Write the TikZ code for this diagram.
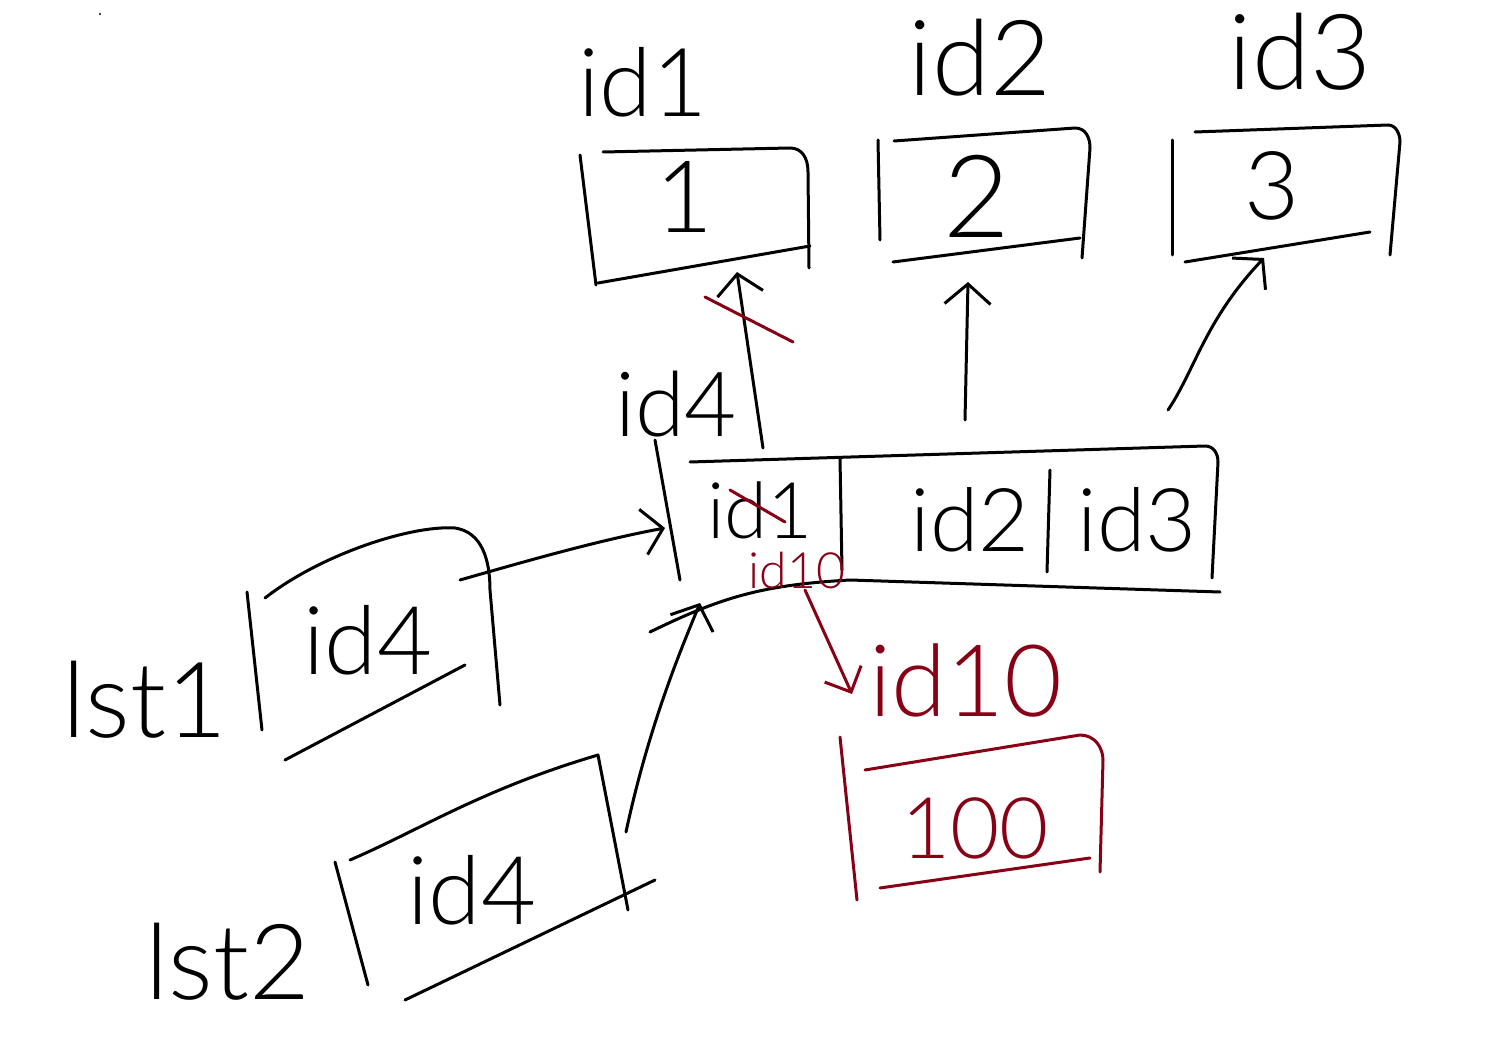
\documentclass[tikz,border=0pt]{standalone}
\usepackage{fontspec}
\newfontfamily\hand{Lato Light}
\usetikzlibrary{arrows.meta}
\definecolor{redink}{RGB}{136,0,21}
\begin{document}
\begin{tikzpicture}[x=1pt,y=-1pt,
  pen/.style={line width=3pt, line cap=round, line join=round},
  redpen/.style={pen, draw=redink},
  txt/.style={font=\hand\fontsize{#1pt}{#1pt}\selectfont, inner sep=0pt},
  redtxt/.style={txt=#1, text=redink},
  head/.style={-{Straight Barb[length=20pt,width=46pt,line width=3pt]}},
]
\fill[white] (0,0) rectangle (1508,1056);
\useasboundingbox (0,0) rectangle (1508,1056);
\fill (100,14) circle (1.2pt);

% ---- key labels above the value boxes
\node[txt=95]  (k1) at (643,82) {id1};
\node[txt=105] (k2) at (980,58) {id2};
\node[txt=105] (k3) at (1300,52) {id3};

% ---- value boxes 1, 2, 3
\draw[pen] (580,155) -- (596,285);
\draw[pen] (603,152) -- (790,148) .. controls (802,148) and (808,158) .. (808,172) -- (809,268);
\draw[pen] (598,283) -- (810,246);
\node[txt=100] (v1) at (684,197) {1};

\draw[pen] (878,140) -- (880,240);
\draw[pen] (894,141) -- (1075,128) .. controls (1086,128) and (1090,138) .. (1090,148) -- (1082,258);
\draw[pen] (893,262) -- (1080,238);
\node[txt=115] (v2) at (977,196) {2};

\draw[pen] (1172,140) -- (1172,255);
\draw[pen] (1195,132) -- (1388,125) .. controls (1396,125) and (1400,134) .. (1400,142) -- (1390,255);
\draw[pen] (1185,262) -- (1370,232);
\node[txt=95] (v3) at (1272,186) {3};

% ---- list node id4 = [id1 | id2 | id3]
\node[txt=90] (k4) at (676,404) {id4};
\draw[pen] (655,440) -- (680,580);
\draw[pen] (690,462) -- (1205,446) .. controls (1214,446) and (1218,454) .. (1218,462) -- (1212,578);
\draw[pen] (650,632) .. controls (720,598) and (760,585) .. (850,580) -- (1220,592);
\draw[pen] (840,458) -- (842,570);
\draw[pen] (1050,470) -- (1047,572);
\node[txt=78] (c1) at (760,510) {id1};
\node[txt=88] (c2) at (970,520) {id2};
\node[txt=88] (c3) at (1137,520) {id3};

% cell pointers to the value boxes
\coordinate (c1s) at (763,448);
\coordinate (v1e) at (737,272);
\coordinate (c2s) at (965,420);
\coordinate (v2e) at (968,282);
\coordinate (c3s) at (1168,410);
\coordinate (v3e) at (1264,258);
\draw[pen, head] (c1s) -- (v1e);
\draw[pen, head] (c2s) -- (v2e);
\draw[pen, head] (c3s) .. controls (1195,370) and (1205,320) .. (v3e);

% ---- update in red: id1 replaced by id10
\draw[redpen] (705,297) -- (793,342);
\draw[redpen] (730,490) -- (785,522);
\node[redtxt=50] (r1) at (797,570) {id10};
\coordinate (r1s) at (805,590);
\node[redtxt=100] (k10) at (966,680) {id10};
\coordinate (k10w) at (852,694);
\draw[redpen, -{Straight Barb[length=20pt,width=40pt,line width=3pt]}] (r1s) -- (k10w);
\draw[redpen] (840,737) -- (857,900);
\draw[redpen] (865,770) -- (1080,735) .. controls (1095,735) and (1103,748) .. (1103,760) -- (1100,872);
\draw[redpen] (880,888) -- (1090,858);
\node[redtxt=85] (v10) at (975,828) {100};

% ---- lst1 -> id4
\node[txt=105] (l1) at (145,700) {lst1};
\draw[pen] (247,592) -- (262,730);
\draw[pen] (265,598) .. controls (320,555) and (410,525) .. (455,528)
  .. controls (482,532) and (490,560) .. (490,590) -- (500,705);
\draw[pen] (285,760) -- (465,665);
\node[txt=95] (p1) at (368,640) {id4};
\coordinate (p1e) at (460,580);
\coordinate (k4w) at (665,528);
\draw[pen, head] (p1e) .. controls (530,560) and (600,540) .. (k4w);

% ---- lst2 -> id4
\node[txt=105] (l2) at (228,962) {lst2};
\draw[pen] (335,862) -- (368,985);
\draw[pen] (350,860) .. controls (420,830) and (480,790) .. (598,755) -- (628,910);
\draw[pen] (405,1000) -- (655,880);
\node[txt=95] (p2) at (472,890) {id4};
\coordinate (p2e) at (626,832);
\coordinate (k4s) at (700,603);
\draw[pen, head] (p2e) .. controls (650,720) and (685,640) .. (k4s);
\end{tikzpicture}
\end{document}
